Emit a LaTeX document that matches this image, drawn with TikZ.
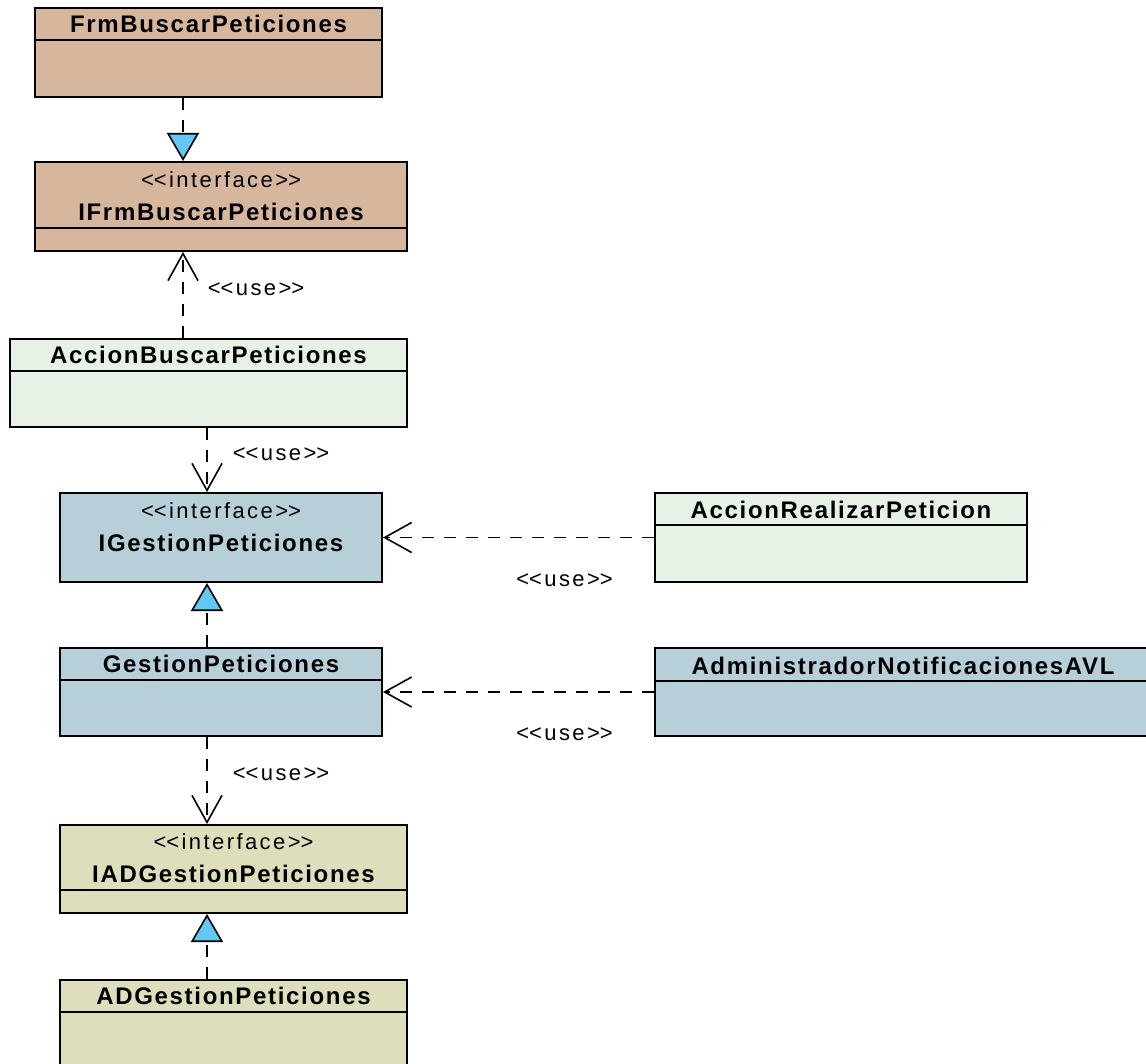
\documentclass[tikz,border=0pt]{standalone}
\usepackage{fontspec}
\newfontfamily\umlnombre{Liberation Sans}[LetterSpace=7]
\newfontfamily\umltexto{Liberation Sans}[LetterSpace=11]
\usetikzlibrary{positioning,arrows.meta}
\definecolor{cafe}{RGB}{215,182,158}
\definecolor{verdeclaro}{RGB}{229,242,229}
\definecolor{azulgris}{RGB}{182,207,217}
\definecolor{caqui}{RGB}{222,222,188}
\definecolor{celeste}{RGB}{100,200,245}
\tikzstyle{clase}=[rectangle,draw=black,line width=2pt,anchor=north west,inner sep=0pt]
\tikzstyle{nombre}=[font={\fontsize{24}{28}\umlnombre\bfseries},inner sep=0pt]
\tikzstyle{estereo}=[font={\fontsize{22}{26}\umltexto},inner sep=0pt]
\tikzstyle{etiqueta}=[font={\fontsize{22}{26}\umltexto},inner sep=0pt]
\tikzstyle{uso}=[draw,line width=1.6pt,dash pattern=on 12pt off 10pt,-{Straight Barb[length=27pt,width=30pt]}]
\tikzstyle{realiza}=[draw,line width=1.6pt,dash pattern=on 12pt off 10pt,-{Triangle[length=28pt,width=32pt,fill=celeste]}]

\begin{document}
\begin{tikzpicture}[x=1pt,y=-1pt]
\clip (0,0) rectangle (1146,1064);

\coordinate (ejeA) at (183,0);
\coordinate (ejeB) at (207,0);

% clases
\node[clase,fill=cafe,minimum width=347pt,minimum height=89pt] (frm) at (34,7) {};
\node[nombre] (frmN) at ([yshift=-17pt]frm.north) {FrmBuscarPeticiones};
\draw[line width=2pt] ([yshift=-33pt]frm.north west) -- ([yshift=-33pt]frm.north east);

\node[clase,fill=cafe,minimum width=372pt,minimum height=89pt] (ifrm) at (34,161) {};
\node[estereo] (ifrmE) at ([yshift=-19pt]ifrm.north) {<\kern0pt<interface>\kern0pt>};
\node[nombre] (ifrmN) at ([yshift=-51pt]ifrm.north) {IFrmBuscarPeticiones};
\draw[line width=2pt] ([yshift=-67pt]ifrm.north west) -- ([yshift=-67pt]ifrm.north east);

\node[clase,fill=verdeclaro,minimum width=397pt,minimum height=88pt] (buscar) at (9,338) {};
\node[nombre] (buscarN) at ([yshift=-17pt]buscar.north) {AccionBuscarPeticiones};
\draw[line width=2pt] ([yshift=-33pt]buscar.north west) -- ([yshift=-33pt]buscar.north east);

\node[clase,fill=azulgris,minimum width=322pt,minimum height=89pt] (igest) at (59,492) {};
\node[estereo] (igestE) at ([yshift=-19pt]igest.north) {<\kern0pt<interface>\kern0pt>};
\node[nombre] (igestN) at ([yshift=-51pt]igest.north) {IGestionPeticiones};

\node[clase,fill=verdeclaro,minimum width=372pt,minimum height=89pt] (realizar) at (654,492) {};
\node[nombre] (realizarN) at ([yshift=-18pt]realizar.north) {AccionRealizarPeticion};
\draw[line width=2pt] ([yshift=-33pt]realizar.north west) -- ([yshift=-33pt]realizar.north east);

\node[clase,fill=azulgris,minimum width=322pt,minimum height=88pt] (gest) at (59,647) {};
\node[nombre] (gestN) at ([yshift=-17pt]gest.north) {GestionPeticiones};
\draw[line width=2pt] ([yshift=-33pt]gest.north west) -- ([yshift=-33pt]gest.north east);

\node[clase,fill=azulgris,minimum width=496pt,minimum height=88pt] (admin) at (654,647) {};
\node[nombre] (adminN) at ([yshift=-19pt]admin.north) {AdministradorNotificacionesAVL};
\draw[line width=2pt] ([yshift=-34pt]admin.north west) -- ([yshift=-34pt]admin.north east);

\node[clase,fill=caqui,minimum width=347pt,minimum height=88pt] (iad) at (59,824) {};
\node[estereo] (iadE) at ([yshift=-18pt]iad.north) {<\kern0pt<interface>\kern0pt>};
\node[nombre] (iadN) at ([yshift=-50pt]iad.north) {IADGestionPeticiones};
\draw[line width=2pt] ([yshift=-66pt]iad.north west) -- ([yshift=-66pt]iad.north east);

\node[clase,fill=caqui,minimum width=347pt,minimum height=89pt] (ad) at (59,979) {};
\node[nombre] (adN) at ([yshift=-17pt]ad.north) {ADGestionPeticiones};
\draw[line width=2pt] ([yshift=-33pt]ad.north west) -- ([yshift=-33pt]ad.north east);

% relaciones
\draw[realiza] (frm.south -| ejeA) -- (ifrm.north -| ejeA);
\draw[uso] (buscar.north -| ejeA) -- (ifrm.south -| ejeA) node[etiqueta,pos=0.57,right=24pt] (usoA) {<\kern0pt<use>\kern0pt>};
\draw[uso] (buscar.south -| ejeB) -- (igest.north -| ejeB) node[etiqueta,pos=0.41,right=25pt] (usoB) {<\kern0pt<use>\kern0pt>};
\draw[uso] (realizar.west) -- (igest.east) node[etiqueta,pos=0.33,below=35pt] (usoC) {<\kern0pt<use>\kern0pt>};
\draw[realiza] (gest.north -| ejeB) -- (igest.south -| ejeB);
\draw[uso] (admin.west) -- (gest.east) node[etiqueta,pos=0.33,below=35pt] (usoD) {<\kern0pt<use>\kern0pt>};
\draw[uso] (gest.south -| ejeB) -- (iad.north -| ejeB) node[etiqueta,pos=0.43,right=25pt] (usoE) {<\kern0pt<use>\kern0pt>};
\draw[realiza] (ad.north -| ejeB) -- (iad.south -| ejeB);

\end{tikzpicture}
\end{document}
